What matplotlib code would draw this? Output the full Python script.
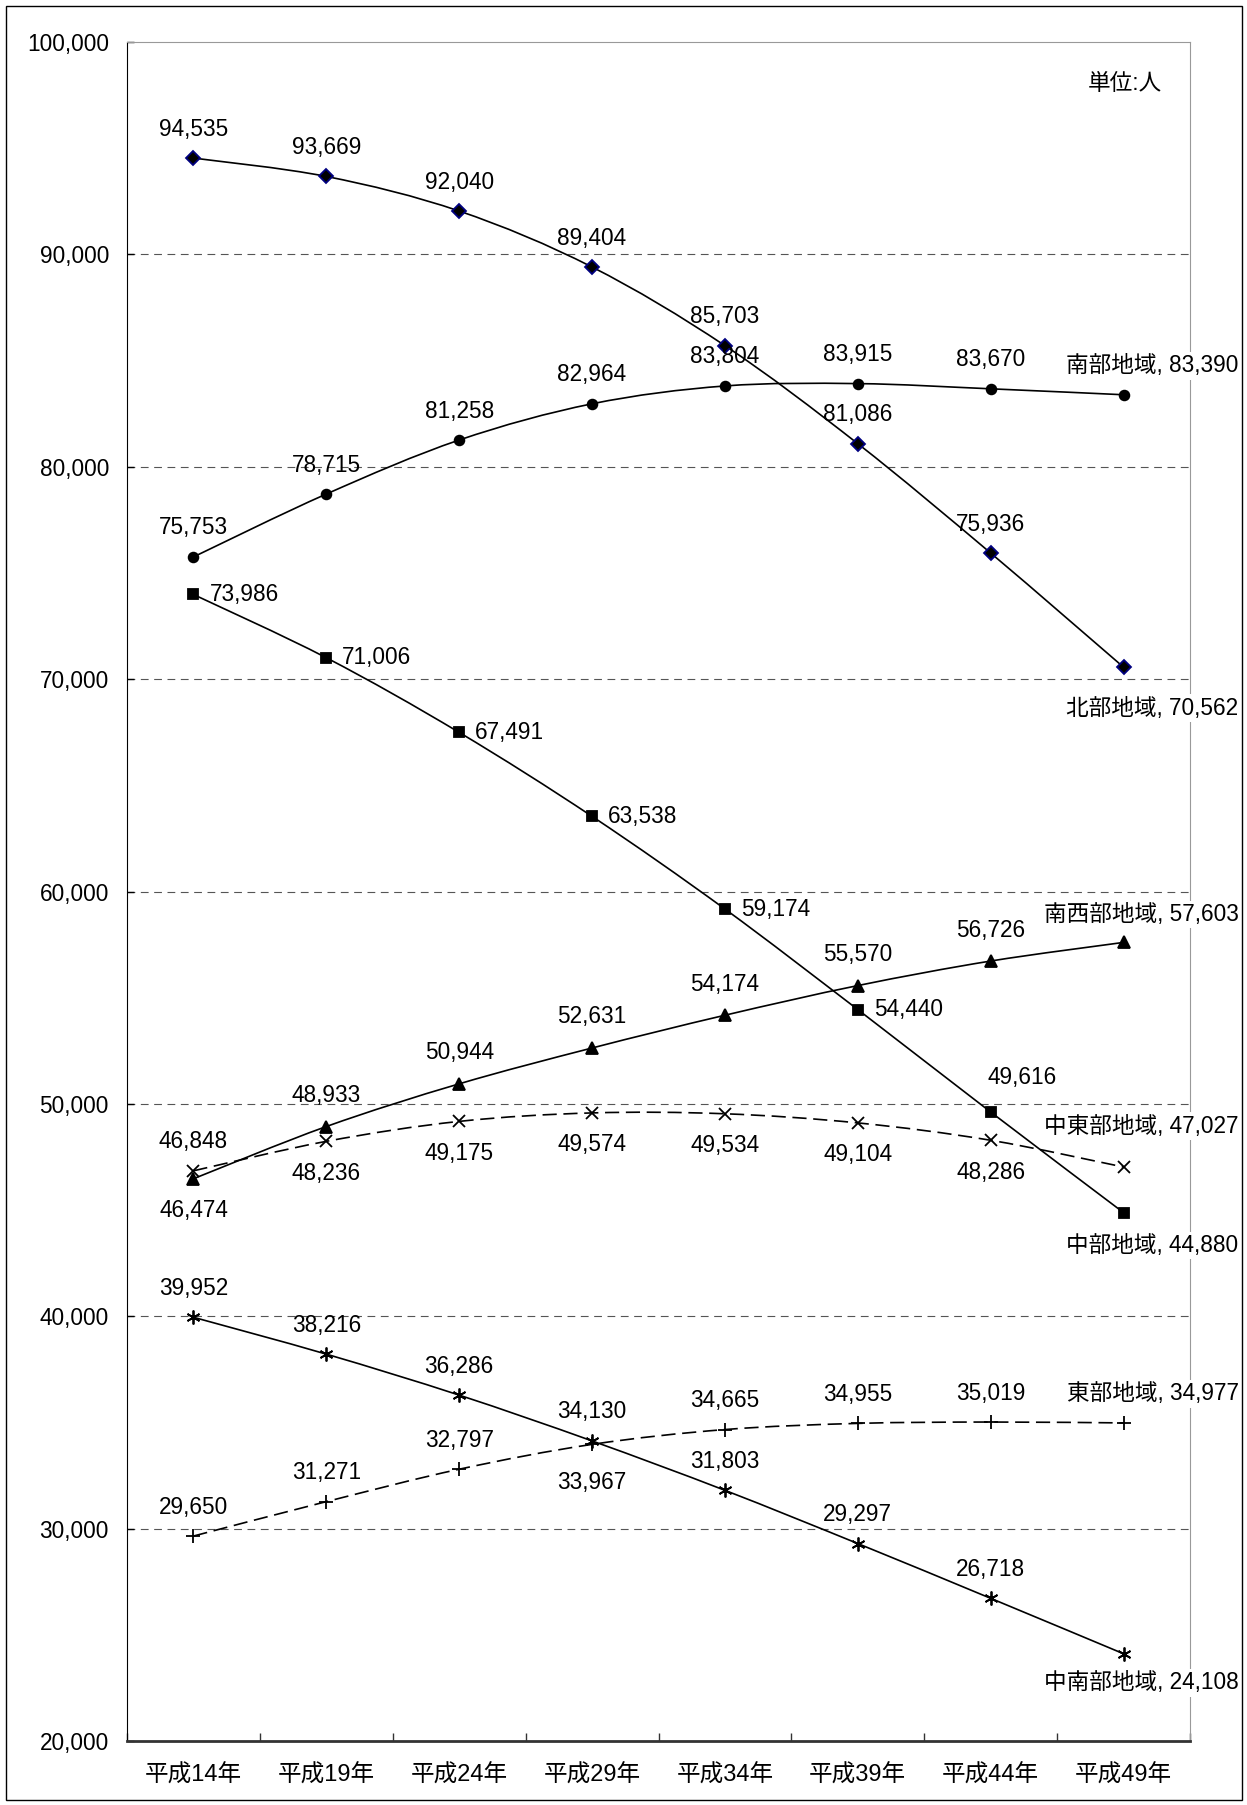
import matplotlib
matplotlib.use('Agg')
import matplotlib.pyplot as plt
from matplotlib.path import Path
from matplotlib.patches import PathPatch, Rectangle

plt.rcParams['font.family'] = ['Liberation Sans', 'Noto Sans CJK JP']

# data
years = ['平成14年', '平成19年', '平成24年', '平成29年', '平成34年', '平成39年', '平成44年', '平成49年']
north = [94535, 93669, 92040, 89404, 85703, 81086, 75936, 70562]
south = [75753, 78715, 81258, 82964, 83804, 83915, 83670, 83390]
central = [73986, 71006, 67491, 63538, 59174, 54440, 49616, 44880]
southwest = [46474, 48933, 50944, 52631, 54174, 55570, 56726, 57603]
mid_east = [46848, 48236, 49175, 49574, 49534, 49104, 48286, 47027]
east = [29650, 31271, 32797, 33967, 34665, 34955, 35019, 34977]
mid_south = [39952, 38216, 36286, 34130, 31803, 29297, 26718, 24108]
names = ['北部地域', '南部地域', '中部地域', '南西部地域', '中東部地域', '東部地域', '中南部地域']

FS = 16.3


def smooth_path(ys):
    # cubic bezier through every point (like Excel "smoothed line")
    n = len(ys)
    xs = list(range(n))
    verts = [(xs[0], ys[0])]
    codes = [Path.MOVETO]
    for i in range(n - 1):
        i0, i3 = max(i - 1, 0), min(i + 2, n - 1)
        x0, y0 = xs[i0], ys[i0]
        x1, y1 = xs[i], ys[i]
        x2, y2 = xs[i + 1], ys[i + 1]
        x3, y3 = xs[i3], ys[i3]
        c1 = (x1 + (x2 - x0) / 6, y1 + (y2 - y0) / 6)
        c2 = (x2 - (x3 - x1) / 6, y2 - (y3 - y1) / 6)
        verts += [c1, c2, (x2, y2)]
        codes += [Path.CURVE4] * 3
    return Path(verts, codes)


fig = plt.figure(figsize=(12.47, 18.05), dpi=100)
fig.patches.append(Rectangle((6 / 1247, 1 - 1800 / 1805), 1236 / 1247, 1794 / 1805,
                             transform=fig.transFigure, fill=False, ec='black', lw=1))
ax = fig.add_axes([127 / 1247, 1 - 1741 / 1805, 1063 / 1247, 1699 / 1805])

ax.set_xlim(-0.5, 7.5)
ax.set_ylim(20000, 100000)
ax.set_yticks(range(20000, 100001, 10000))
ax.set_yticklabels([f'{v:,}' for v in range(20000, 100001, 10000)])
ax.set_xticks(range(len(years)))
ax.set_xticklabels(years)
ax.set_xticks([i - 0.5 for i in range(len(years) + 1)], minor=True)
ax.tick_params(axis='x', which='major', length=0, pad=17, labelsize=17)
ax.tick_params(axis='x', which='minor', direction='in', length=6, width=1, color='#333333')
ax.tick_params(axis='y', direction='in', length=5, width=1, pad=13, labelsize=FS)

for v in range(30000, 100000, 10000):
    ax.axhline(v, color='#555555', lw=0.8, linestyle=(0, (7, 5)), zorder=0.5)

ax.spines['left'].set_color('black')
ax.spines['bottom'].set_color('#333333')
ax.spines['bottom'].set_linewidth(2)
ax.spines['top'].set_color('#999999')
ax.spines['right'].set_color('#999999')

series = [north, south, central, southwest, mid_east, east, mid_south]
markers = ['D', 'o', 's', '^', 'x', '+', (6, 2, 0)]
msizes = [7, 7, 7, 8, 8, 10, 10]
edge = ['#000080', 'black', 'black', 'black', 'black', 'black', 'black']
dashed = [False, False, False, False, True, True, False]
# label side for every point except the last: a=above, b=below, r=right
sides = [
    'aaaaaaa',
    'aaaaaaa',
    'rrrrrrA',
    'baaaaaa',
    'abbbbbb',
    'aaaBaaa',
    'aaaaaaa',
]
last_dy = [-41, 29, -33, 28, 41, 29, -29]

for ys, m, ms, ec, d, sd, ldy, name in zip(series, markers, msizes, edge, dashed, sides, last_dy, names):
    ls = (0, (8.5, 4)) if d else '-'
    ax.add_patch(PathPatch(smooth_path(ys), fill=False, ec='black', lw=1.2, linestyle=ls, zorder=3))
    ax.plot(range(len(ys)), ys, linestyle='none', marker=m, ms=ms, mfc='black', mec=ec,
            mew=1.3, zorder=4)
    for i, v in enumerate(ys[:-1]):
        s = sd[i]
        if s == 'a':
            off, ha = (0, 29 if m != '^' else 31), 'center'
        elif s == 'b':
            off, ha = (0, -32), 'center'
        elif s == 'B':
            off, ha = (0, -38), 'center'
        elif s == 'A':
            off, ha = (31, 35), 'center'
        else:
            off, ha = (16, 0), 'left'
        ax.annotate(f'{v:,}', (i, v), xytext=off, textcoords='offset pixels',
                    ha=ha, va='center', fontsize=FS, zorder=5)
    ax.annotate(f'{name}, {ys[-1]:,}', (len(ys) - 1, ys[-1]), xytext=(115, ldy),
                textcoords='offset pixels', ha='right', va='center', fontsize=FS,
                annotation_clip=False, zorder=6,
                bbox=dict(boxstyle='square,pad=0.1', fc='white', ec='none'))

fig.text(1162 / 1247, 1 - 84 / 1805, '単位:人', ha='right', va='center', fontsize=FS)

fig.savefig('out.png', dpi=100)
